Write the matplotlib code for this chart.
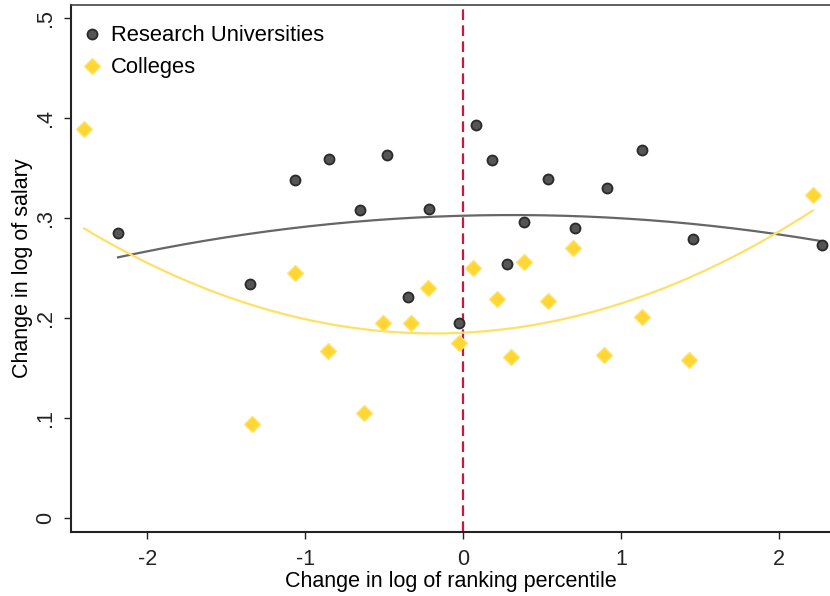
import numpy as np
import matplotlib
matplotlib.use("Agg")
import matplotlib.pyplot as plt

plt.rcParams["font.family"] = ["Liberation Sans", "DejaVu Sans"]

# Research universities: change in log ranking percentile vs change in log salary
uni_x = [-2.185, -1.35, -1.066, -0.85, -0.654, -0.481, -0.347, -0.217, -0.025,
         0.080, 0.183, 0.278, 0.384, 0.538, 0.705, 0.908, 1.131, 1.454, 2.268]
uni_y = [0.285, 0.234, 0.338, 0.359, 0.308, 0.363, 0.221, 0.309, 0.195,
         0.393, 0.358, 0.254, 0.296, 0.339, 0.290, 0.330, 0.368, 0.279, 0.273]

# Colleges
col_x = [-2.399, -1.340, -1.066, -0.858, -0.627, -0.510, -0.333, -0.225, -0.025,
         0.061, 0.211, 0.302, 0.384, 0.538, 0.694, 0.892, 1.133, 1.428, 2.212]
col_y = [0.389, 0.094, 0.245, 0.167, 0.105, 0.195, 0.195, 0.230, 0.175,
         0.250, 0.219, 0.161, 0.256, 0.217, 0.270, 0.163, 0.201, 0.158, 0.323]

# quadratic fit lines (a, b, c) as drawn in the figure
uni_fit = [-0.0068, 0.0042, 0.302]
col_fit = [0.0214, 0.0079, 0.185]

x_ticks = [-2, -1, 0, 1, 2]
y_ticks = [0, 0.1, 0.2, 0.3, 0.4, 0.5]
y_tick_labels = ["0", ".1", ".2", ".3", ".4", ".5"]

uni_color = "#555555"
col_color = "#FFD733"
fs = 15.5


def fit_line(coef, x):
    xs = np.linspace(min(x), max(x), 200)
    return xs, np.polyval(coef, xs)


fig = plt.figure(figsize=(8.3, 5.96), dpi=100)
ax = fig.add_axes([0.0855, 0.1074, 0.9145, 0.8842])

xs, ys = fit_line(uni_fit, uni_x)
ax.plot(xs, ys, color="#666666", lw=1.6, zorder=2)
xs, ys = fit_line(col_fit, col_x)
ax.plot(xs, ys, color="#FFE066", lw=1.6, zorder=2)

ax.axvline(0, color="#C8184A", lw=1.6, ls=(0, (4.8, 2.4)), zorder=1)

ax.plot(uni_x, uni_y, "o", ms=7.2, mfc=uni_color, mec="#2a2a2a", mew=1.3,
        label="Research Universities", zorder=3)
ax.plot(col_x, col_y, "D", ms=8, mfc=col_color, mec="#FFE270", mew=1.0,
        label="Colleges", zorder=3)

ax.set_xlim(-2.483, 2.321)
ax.set_ylim(-0.0143, 0.5127)
ax.set_xticks(x_ticks)
ax.set_xticklabels([str(t) for t in x_ticks])
ax.set_yticks(y_ticks)
ax.set_yticklabels(y_tick_labels, rotation=90, va="center")

ax.tick_params(direction="out", length=5, width=1, labelsize=fs, colors="#222222")
ax.tick_params(axis="x", pad=7)
ax.tick_params(axis="y", pad=6)
for s in ["left", "bottom", "top"]:
    ax.spines[s].set_linewidth(1.5)
    ax.spines[s].set_color("#222222")
ax.spines["top"].set_color("#444444")
ax.spines["top"].set_linewidth(1.2)
ax.spines["right"].set_visible(False)

ax.set_xlabel("Change in log of ranking percentile", fontsize=fs, labelpad=1)
ax.set_ylabel("Change in log of salary", fontsize=fs, labelpad=1)

ax.legend(loc="upper left", frameon=False, fontsize=15.8, handlelength=0.8,
          handletextpad=0.47, borderaxespad=0.17, labelspacing=0.5,
          bbox_to_anchor=(0.0, 0.985))

fig.savefig("out.png", dpi=100)
